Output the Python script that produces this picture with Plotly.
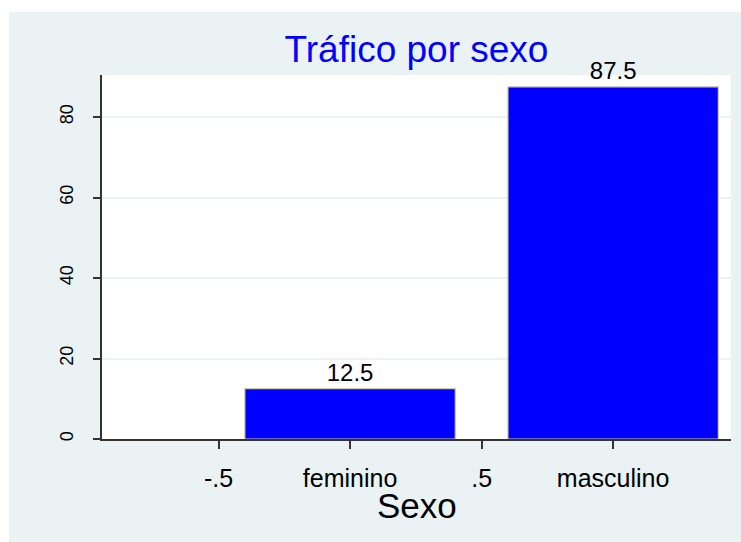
import plotly.graph_objects as go

# ---- data ----
categories = ["feminino", "masculino"]
cat_positions = [0, 1]
percent = [12.5, 87.5]
x_tickvals = [-0.5, 0, 0.5, 1]
x_ticktext = ["-.5", "feminino", ".5", "masculino"]
y_tickvals = [0, 20, 40, 60, 80]
title_text = "Tráfico por sexo"
xaxis_title = "Sexo"

# ---- layout geometry (pixels) ----
W, H = 741, 542
L, R, T, B = 102, 10, 75, 103
PW = W - L - R
PH = H - T - B
BG = "#EAF2F3"
FONT = "Liberation Sans, Arial, Helvetica, sans-serif"


def px_x(p):
    return (p - L) / PW


def px_y(p):
    return (H - B - p) / PH


fig = go.Figure()
fig.add_trace(go.Bar(
    x=cat_positions,
    y=percent,
    width=0.8,
    marker=dict(color="#0000FF", line=dict(color="#D6CCA2", width=1.2)),
    text=percent,
    texttemplate="%{y}",
    textposition="outside",
    textfont=dict(family=FONT, size=24, color="#000000"),
    cliponaxis=False,
    hoverinfo="x+y",
))

fig.update_layout(
    width=W, height=H,
    margin=dict(l=L, r=R, t=T, b=B, pad=0),
    paper_bgcolor=BG,
    plot_bgcolor="#FFFFFF",
    showlegend=False,
    font=dict(family=FONT, color="#000000"),
    title=dict(
        text=title_text,
        font=dict(family=FONT, size=37, color="#0000FF"),
        x=0.5, xref="paper", xanchor="center",
        y=1 - 49 / H, yref="container", yanchor="middle",
    ),
    xaxis=dict(
        range=[-0.943, 1.448],
        tickmode="array", tickvals=x_tickvals, ticktext=x_ticktext,
        tickfont=dict(family=FONT, size=25, color="#000000"),
        ticks="outside", ticklen=8, tickwidth=1.5, tickcolor="#333333",
        showline=True, linecolor="#333333", linewidth=1.5,
        showgrid=False, zeroline=False,
        ticklabelstandoff=8,
        fixedrange=True,
    ),
    yaxis=dict(
        range=[0, 90.45],
        tickmode="array", tickvals=y_tickvals,
        tickfont=dict(family=FONT, size=18, color="#000000"),
        tickangle=-90,
        ticks="outside", ticklen=7, tickwidth=1.5, tickcolor="#333333",
        showline=True, linecolor="#333333", linewidth=1.5,
        showgrid=True, gridcolor=BG, gridwidth=1.5,
        zeroline=False,
        ticklabelstandoff=13,
        fixedrange=True,
    ),
    shapes=[
        # white strips outside the Stata graph region (left and top)
        dict(type="rect", xref="paper", yref="paper", layer="above",
             x0=px_x(-5), x1=px_x(9), y0=px_y(H + 5), y1=px_y(-5),
             fillcolor="#FFFFFF", line=dict(width=0)),
        dict(type="rect", xref="paper", yref="paper", layer="above",
             x0=px_x(-5), x1=px_x(W + 5), y0=px_y(12), y1=px_y(-5),
             fillcolor="#FFFFFF", line=dict(width=0)),
    ],
    annotations=[
        dict(text=xaxis_title, xref="paper", yref="paper",
             x=0.5, y=px_y(505), xanchor="center", yanchor="middle",
             showarrow=False,
             font=dict(family=FONT, size=35, color="#000000")),
    ],
)

fig.write_html(
    "out.html",
    config={"displayModeBar": False},
    post_script="document.body.style.margin='0px';document.body.style.overflow='hidden';",
)
